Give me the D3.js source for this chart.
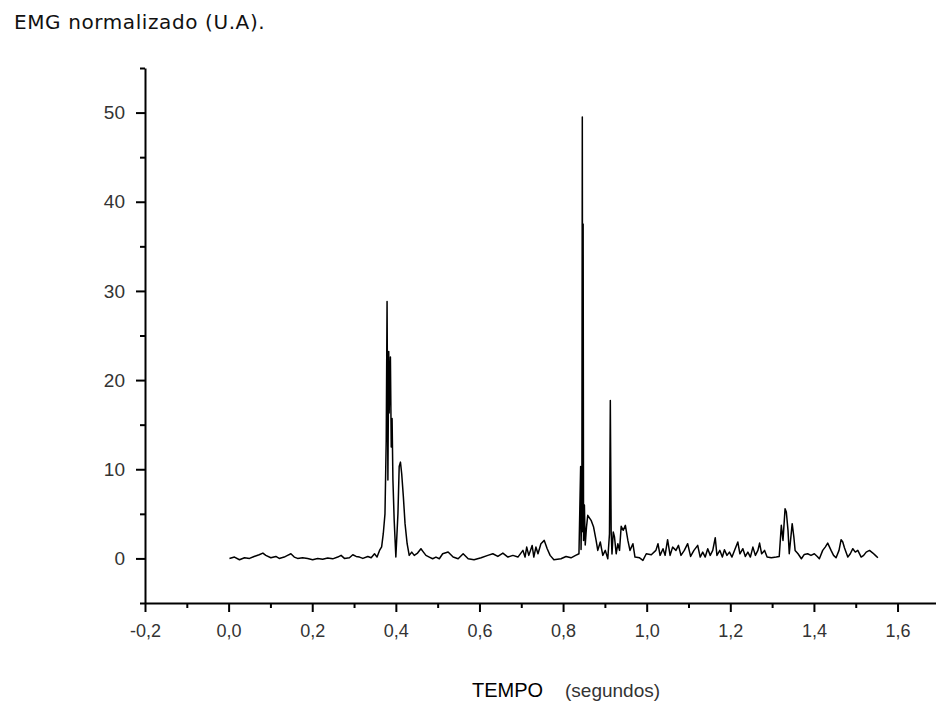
<!DOCTYPE html>
<html>
<head>
<meta charset="utf-8">
<script src="https://cdn.jsdelivr.net/npm/d3@7"></script>
<style>
  body { margin: 0; background: #fff; }
</style>
</head>
<body>
<div id="chart"></div>
<script>
// EMG trace: time (s) and normalised EMG (U.A.)
const tempo = [
  0.002, 0.014, 0.026, 0.038, 0.050, 0.061, 0.073, 0.082, 0.089, 0.101,
  0.113, 0.121, 0.133, 0.141, 0.149, 0.157, 0.165, 0.177, 0.189, 0.201,
  0.213, 0.225, 0.237, 0.249, 0.261, 0.269, 0.277, 0.289, 0.297, 0.305,
  0.313, 0.321, 0.333, 0.341, 0.349, 0.355,
  0.361, 0.366, 0.370, 0.374, 0.377, 0.379, 0.381, 0.383, 0.384, 0.387,
  0.389, 0.391, 0.393, 0.396, 0.400, 0.405, 0.408, 0.411, 0.414, 0.418,
  0.422, 0.427, 0.432, 0.438, 0.444, 0.452, 0.460, 0.466, 0.472, 0.480,
  0.488, 0.496, 0.504, 0.512,
  0.525, 0.537, 0.549, 0.561, 0.573, 0.587, 0.604, 0.620, 0.632, 0.644,
  0.656, 0.668, 0.680, 0.692, 0.704, 0.709, 0.713, 0.718, 0.726, 0.730,
  0.735, 0.740, 0.747, 0.755, 0.762, 0.769, 0.778, 0.795, 0.807, 0.819,
  0.830, 0.838,
  0.842, 0.843, 0.845, 0.846, 0.847, 0.848, 0.849, 0.851, 0.853, 0.856,
  0.859, 0.867, 0.873, 0.879, 0.883, 0.889, 0.895, 0.901, 0.907, 0.911,
  0.913, 0.915, 0.917, 0.920, 0.923, 0.927, 0.931, 0.935, 0.939, 0.944,
  0.949, 0.955, 0.960, 0.967, 0.972, 0.983, 0.991, 0.999, 1.011, 1.022,
  1.027, 1.032, 1.039, 1.044, 1.050, 1.056, 1.062, 1.070, 1.076, 1.082,
  1.090, 1.098, 1.105, 1.113, 1.122, 1.128, 1.134, 1.140, 1.146, 1.152,
  1.158, 1.164, 1.168, 1.175, 1.181, 1.186, 1.192, 1.198, 1.204, 1.210,
  1.218, 1.223, 1.230, 1.236, 1.242, 1.248, 1.254, 1.260, 1.266, 1.270,
  1.275, 1.282, 1.288, 1.298, 1.310, 1.317, 1.322, 1.326, 1.331, 1.334,
  1.338, 1.341, 1.348, 1.352, 1.355, 1.362, 1.370, 1.377, 1.385, 1.393,
  1.401, 1.408, 1.413, 1.421, 1.427, 1.433, 1.441, 1.447, 1.453, 1.460,
  1.465, 1.469, 1.473, 1.481, 1.487, 1.493, 1.499, 1.505, 1.513, 1.519,
  1.525, 1.533, 1.541, 1.547, 1.553
]
const emg = [
  0.0, 0.15, -0.15, 0.07, 0.0, 0.22, 0.41, 0.6, 0.34, 0.07,
  0.22, 0.0, 0.15, 0.34, 0.52, 0.15, 0.0, 0.07, 0.0, -0.15,
  0.0, -0.1, 0.05, -0.05, 0.15, 0.34, 0.0, 0.07, 0.41, 0.22,
  0.15, 0.0, 0.22, 0.07, 0.52, 0.15,
  0.9, 1.3, 2.8, 5.0, 13.3, 28.8, 8.8, 23.2, 16.3, 22.6,
  12.5, 15.7, 8.8, 4.3, 0.15, 5.0, 10.3, 10.8, 9.5, 6.9,
  3.9, 1.65, 0.34, 0.71, 0.34, 0.6, 1.09, 0.71, 0.34, 0.15,
  -0.04, 0.15, -0.04, 0.52,
  0.71, 0.15, -0.04, 0.52, -0.04, -0.15, 0.07, 0.34, 0.52, 0.22,
  0.6, 0.15, 0.34, 0.15, 0.9, 0.15, 1.27, 0.34, 1.46, 0.15,
  1.27, 0.52, 1.65, 2.02, 1.09, 0.34, -0.15, -0.04, 0.22, 0.07,
  0.34, 0.52,
  10.3, 1.0, 8.0, 49.5, 3.0, 37.5, 2.0, 6.0, 1.5, 3.5,
  4.83, 4.27, 3.52, 2.02, 0.9, 1.84, 0.34, 0.9, -0.04, 2.77,
  17.7, 3.0, 0.5, 2.96, 2.4, 0.52, 1.65, 0.9, 3.6, 3.15,
  3.71, 2.02, 0.9, 1.65, 0.15, 0.07, -0.22, 0.52, 0.41, 0.9,
  1.65, 0.34, 1.09, 0.34, 2.1, 0.34, 1.27, 0.9, 1.46, 0.34,
  0.9, 1.65, 0.22, 0.9, 1.46, 0.15, 0.71, 0.15, 1.09, 0.34,
  0.9, 2.32, 0.34, 0.9, 0.15, 0.97, 0.34, 0.71, 0.15, 0.9,
  1.84, 0.52, 1.09, 0.22, 0.71, 0.15, 1.27, 0.34, 0.9, 1.72,
  0.52, 0.9, 0.15, 0.07, 0.15, 0.22, 3.71, 2.02, 5.58, 5.21,
  3.15, 0.52, 3.9, 2.4, 0.9, 0.52, -0.04, 0.45, 0.52, 0.34,
  0.52, 0.22, -0.04, 0.9, 1.27, 1.72, 0.9, 0.34, 0.07, 0.9,
  2.1, 1.84, 1.2, 0.15, 0.52, 1.09, 0.71, 0.9, 0.15, 0.34,
  0.71, 0.9, 0.6, 0.34, 0.07
]

const xTicks = [-0.2, 0.0, 0.2, 0.4, 0.6, 0.8, 1.0, 1.2, 1.4, 1.6]
const xMinorTicks = [-0.1, 0.1, 0.3, 0.5, 0.7, 0.9, 1.1, 1.3, 1.5]
const yTicks = [0, 10, 20, 30, 40, 50]
const yMinorTicks = [-5, 5, 15, 25, 35, 45, 55]

const width = 936
const height = 702
const plotLeft = 145
const plotRight = 936
const plotTop = 68
const plotBottom = 603

const svg = d3.select('#chart').append('svg')
  .attr('width', width)
  .attr('height', height)

const x = d3.scaleLinear()
  .domain([-0.2, 1.692])
  .range([plotLeft, plotRight])

const y = d3.scaleLinear()
  .domain([-5, 55])
  .range([plotBottom, plotTop])

// comma as decimal mark, plain hyphen for minus
const fmt = d3.formatLocale({
  decimal: ',', thousands: '.', grouping: [3], currency: ['', ''], minus: '-'
}).format('.1f')

const tickFont = 'Liberation Sans, Arial, sans-serif'

// x axis
svg.append('g')
  .attr('transform', `translate(0,${plotBottom})`)
  .call(d3.axisBottom(x).tickValues(xMinorTicks).tickSize(5).tickFormat(''))
  .call(g => g.select('.domain').remove())
  .call(g => g.selectAll('line').attr('stroke', '#000').attr('stroke-width', 2))

svg.append('g')
  .attr('transform', `translate(0,${plotBottom})`)
  .call(d3.axisBottom(x).tickValues(xTicks).tickSize(9).tickSizeOuter(0).tickPadding(12).tickFormat(fmt))
  .call(g => g.select('.domain').attr('stroke', '#000').attr('stroke-width', 2))
  .call(g => g.selectAll('line').attr('stroke', '#000').attr('stroke-width', 2))
  .call(g => g.selectAll('text')
    .attr('font-family', tickFont)
    .attr('font-size', 18)
    .attr('fill', '#333'))

// y axis
svg.append('g')
  .attr('transform', `translate(${plotLeft},0)`)
  .call(d3.axisLeft(y).tickValues(yMinorTicks).tickSize(5).tickFormat(''))
  .call(g => g.select('.domain').remove())
  .call(g => g.selectAll('line').attr('stroke', '#000').attr('stroke-width', 2))

svg.append('g')
  .attr('transform', `translate(${plotLeft},0)`)
  .call(d3.axisLeft(y).tickValues(yTicks).tickSize(9).tickSizeOuter(0).tickPadding(11))
  .call(g => g.select('.domain').attr('stroke', '#000').attr('stroke-width', 2))
  .call(g => g.selectAll('line').attr('stroke', '#000').attr('stroke-width', 2))
  .call(g => g.selectAll('text')
    .attr('font-family', tickFont)
    .attr('font-size', 19)
    .attr('fill', '#333'))

// trace
const line = d3.line()
  .x((d, i) => x(tempo[i]))
  .y(d => y(d))

svg.append('path')
  .datum(emg)
  .attr('fill', 'none')
  .attr('stroke', '#000')
  .attr('stroke-width', 1.5)
  .attr('stroke-linejoin', 'round')
  .attr('d', line)

// titles
svg.append('text')
  .attr('x', 14)
  .attr('y', 29)
  .attr('font-family', 'DejaVu Sans, Verdana, sans-serif')
  .attr('font-size', 20)
  .attr('letter-spacing', 0.6)
  .attr('fill', '#111')
  .text('EMG normalizado (U.A).')

svg.append('text')
  .attr('x', 472)
  .attr('y', 697)
  .attr('font-family', tickFont)
  .attr('font-size', 20)
  .attr('fill', '#000')
  .text('TEMPO')

svg.append('text')
  .attr('x', 565)
  .attr('y', 697)
  .attr('font-family', tickFont)
  .attr('font-size', 19)
  .attr('fill', '#333')
  .text('(segundos)')
</script>
</body>
</html>
